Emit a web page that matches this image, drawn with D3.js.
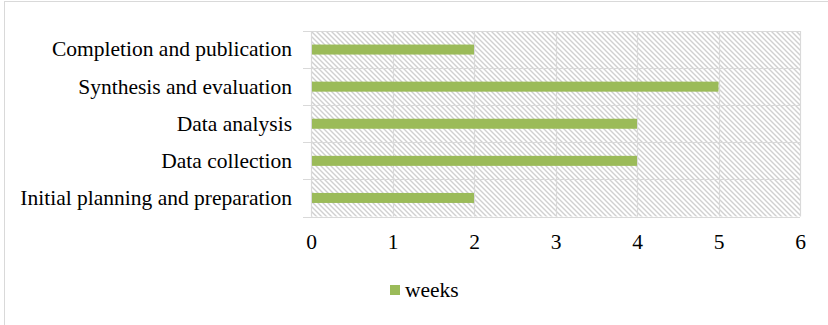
<!DOCTYPE html>
<html>
<head>
<meta charset="utf-8">
<script src="https://cdn.jsdelivr.net/npm/d3@7"></script>
<style>
  html, body { margin: 0; padding: 0; background: #fff; }
  svg { display: block; }
  text { font-family: "Liberation Serif", "Times New Roman", serif; fill: #000; }
</style>
</head>
<body>
<svg id="chart" width="828" height="325"></svg>
<script>
// Project phases and their durations
const phases = [
  "Initial planning and preparation",
  "Data collection",
  "Data analysis",
  "Synthesis and evaluation",
  "Completion and publication"
];
const weeks = [2, 4, 4, 5, 2];
const xTicks = [0, 1, 2, 3, 4, 5, 6];
const seriesName = "weeks";

const W = 828, H = 325;
const plot = { left: 311, right: 800, top: 31, bottom: 216.5 };
const gridColor = "#d9d9d9";
const barColor = "#9bbb59";
const fontSize = "21.5px";
const serif = '"Liberation Serif", "Times New Roman", serif';

const svg = d3.select("#chart");

// diagonal hatch for the plot background
const defs = svg.append("defs");
const pat = defs.append("pattern")
  .attr("id", "hatch")
  .attr("patternUnits", "userSpaceOnUse")
  .attr("width", 5).attr("height", 5);
pat.append("rect").attr("width", 5).attr("height", 5).attr("fill", "#fff");
pat.append("path")
  .attr("d", "M-1,-1 L6,6 M-1,4 L1,6 M4,-1 L6,1")
  .attr("stroke", "#d0d0d0")
  .attr("stroke-width", 1.4);

// chart area frame
svg.append("rect")
  .attr("x", 4.5).attr("y", 1.5)
  .attr("width", W + 10).attr("height", H + 10)
  .attr("fill", "#fff")
  .attr("stroke", gridColor).attr("stroke-width", 1);

const x = d3.scaleLinear().domain([0, 6]).range([plot.left, plot.right]);
// top-to-bottom order: last phase drawn on top
const y = d3.scaleBand()
  .domain(phases.slice().reverse())
  .range([plot.top, plot.bottom])
  .paddingInner(0.73).paddingOuter(0.365);
const yBands = d3.scaleBand()
  .domain(phases.slice().reverse())
  .range([plot.top, plot.bottom]);

// plot background
svg.append("rect")
  .attr("x", plot.left).attr("y", plot.top)
  .attr("width", plot.right - plot.left).attr("height", plot.bottom - plot.top)
  .attr("fill", "url(#hatch)");

// vertical gridlines
svg.append("g")
  .selectAll("line")
  .data(xTicks)
  .join("line")
  .attr("x1", d => Math.round(x(d)) + 0.5).attr("x2", d => Math.round(x(d)) + 0.5)
  .attr("y1", plot.top).attr("y2", plot.bottom)
  .attr("stroke", gridColor).attr("stroke-width", 1.2);

// horizontal category boundaries with outward ticks
const bounds = yBands.domain().map(d => yBands(d)).concat([plot.bottom]);
svg.append("g")
  .selectAll("line")
  .data(bounds)
  .join("line")
  .attr("x1", plot.left - 8).attr("x2", plot.right)
  .attr("y1", d => Math.round(d) + 0.5).attr("y2", d => Math.round(d) + 0.5)
  .attr("stroke", gridColor).attr("stroke-width", 1.2);

// bars
svg.append("g")
  .selectAll("rect")
  .data(phases.map((p, i) => ({ p, v: weeks[i] })))
  .join("rect")
  .attr("x", x(0) + 1)
  .attr("y", d => y(d.p))
  .attr("width", d => x(d.v) - x(0) - 1)
  .attr("height", y.bandwidth())
  .attr("fill", barColor);

// category axis labels
const yAxis = d3.axisLeft(yBands).tickSize(0).tickPadding(19);
const gy = svg.append("g")
  .attr("transform", `translate(${plot.left},0)`)
  .call(yAxis);
gy.select(".domain").remove();
gy.selectAll("text")
  .style("font-family", serif)
  .style("font-size", fontSize)
  .attr("fill", "#000");

// value axis labels
const xAxis = d3.axisBottom(x).tickValues(xTicks).tickSize(0).tickPadding(17)
  .tickFormat(d3.format("d"));
const gx = svg.append("g")
  .attr("transform", `translate(0,${plot.bottom})`)
  .call(xAxis);
gx.select(".domain").remove();
gx.selectAll("text")
  .style("font-family", serif)
  .style("font-size", fontSize)
  .attr("fill", "#000");

// legend
const lg = svg.append("g").attr("transform", "translate(390,285)");
lg.append("rect").attr("width", 10).attr("height", 10).attr("fill", barColor);
lg.append("text")
  .attr("x", 15).attr("y", 12)
  .style("font-family", serif)
  .style("font-size", fontSize)
  .text(seriesName);
</script>
</body>
</html>
